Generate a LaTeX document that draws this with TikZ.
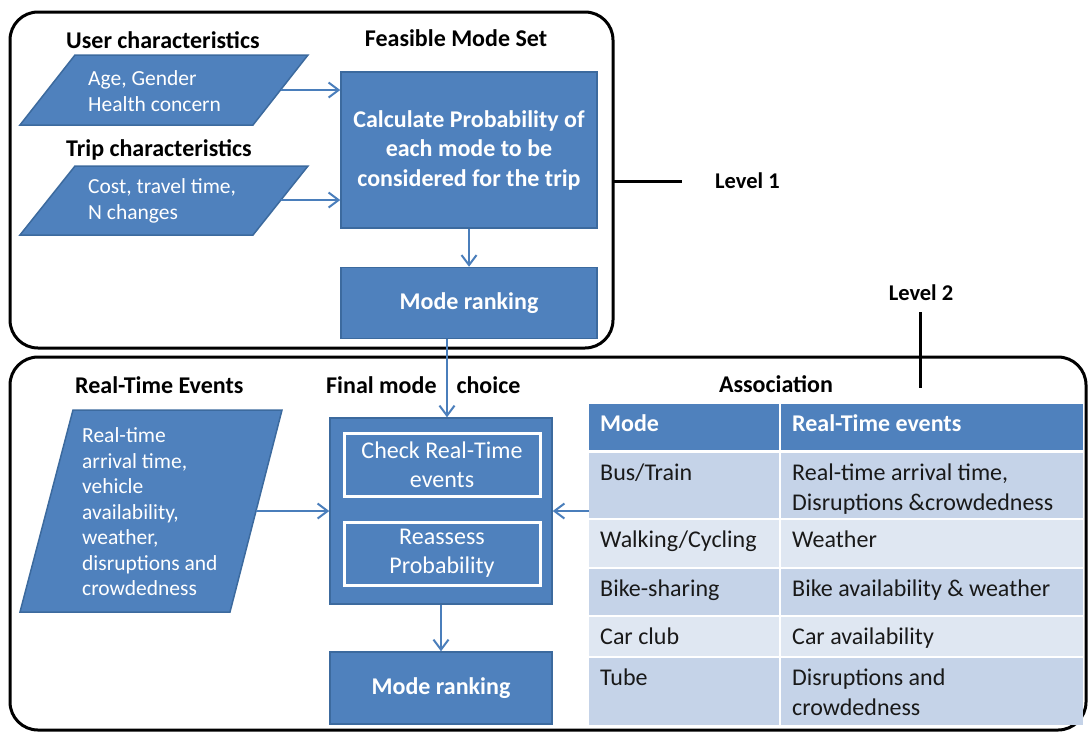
\documentclass[tikz,border=0pt]{standalone}
\usepackage{fontspec}
\setmainfont{Carlito}
\usetikzlibrary{arrows.meta,positioning}
\definecolor{boxblue}{HTML}{4F81BD}
\definecolor{edgeblue}{HTML}{3C6A9E}
\definecolor{lineblue}{HTML}{4A7EBB}
\definecolor{rowdark}{HTML}{C5D3E8}
\definecolor{rowlight}{HTML}{DFE7F2}
\begin{document}
\begin{tikzpicture}[
        x=1pt, y=-1pt,
        level/.style={draw=black, line width=3pt, rounded corners=28pt},
        title/.style={font=\fontsize{24}{28}\selectfont\bfseries, inner sep=0pt},
        levtext/.style={font=\fontsize{22.5}{26}\selectfont\bfseries, inner sep=0pt},
        datain/.style={fill=boxblue, draw=edgeblue, line width=1.5pt},
        intext/.style={text=white, align=left, inner sep=0pt, font=\fontsize{21.5}{25.5}\selectfont},
        process/.style={rectangle, fill=boxblue, draw=edgeblue, line width=1.5pt, text=white, align=center, font=\fontsize{24}{29.5}\selectfont\bfseries},
        subbox/.style={rectangle, draw=white, line width=3pt, text=white, align=center, font=\fontsize{24}{29}\selectfont, minimum width=196pt, minimum height=63pt},
        cell/.style={rectangle, anchor=north west, inner sep=0pt},
        celltext/.style={anchor=base west, inner sep=0pt, align=left, font=\fontsize{24}{30}\selectfont, text=black!90},
        headtext/.style={celltext, text=white, font=\fontsize{24}{30}\selectfont\bfseries},
        arrow/.style={-{Straight Barb[length=10pt, width=15pt, line width=2pt]}, line width=2pt, lineblue}
    ]
    \useasboundingbox (0,0) rectangle (1089,732);

    % level frames
    \draw[level] (10,12) rectangle (613,348);
    \draw[level] (10,357) rectangle (1086,730);
    \draw[line width=3pt] (613,181) -- (682,181);
    \draw[line width=3pt] (920,312) -- (920,388);
    \node[levtext, anchor=west] (lev1) at (715,181) {Level 1};
    \node[levtext] (lev2) at (921,293) {Level 2};

    % level 1
    \node[title, anchor=west] (user) at (66,40) {User characteristics};
    \node[title, anchor=west] (trip) at (66,150) {Trip characteristics};
    \node[title] (feas) at (456,38) {Feasible Mode Set};

    \fill[datain] (20,125) -- (253,125) -- (308,55) -- (75,55) -- cycle;
    \fill[datain] (20,235) -- (253,235) -- (308,166) -- (75,166) -- cycle;
    \node[intext, anchor=west] (age) at (88,91) {Age, Gender\\Health concern};
    \node[intext, anchor=west] (cost) at (88,201) {Cost, travel time,\\N changes};
    \coordinate (ageout) at (281,90);
    \coordinate (costout) at (281,200);

    \node[process, minimum width=256pt, minimum height=156pt] (calc) at (469,150)
        {Calculate Probability of\\each mode to be\\considered for the trip};
    \node[process, minimum width=256pt, minimum height=71pt] (rank1) at (469,303) {Mode ranking};

    \draw[arrow] (ageout) -- (ageout -| calc.west);
    \draw[arrow] (costout) -- (costout -| calc.west);
    \draw[arrow] (calc) -- (rank1);

    % level 2
    \node[title, anchor=west] (rte) at (75,385) {Real-Time Events};
    \node[title, anchor=west] (fmc) at (326,385) {Final mode\hspace{20pt}choice};
    \node[title] (assoc) at (776,384) {Association};

    \fill[datain] (20,612) -- (230,612) -- (282,410) -- (73,410) -- cycle;
    \node[intext, anchor=west] (rtin) at (82,512)
        {Real-time\\arrival time,\\vehicle\\availability,\\weather,\\disruptions and\\crowdedness};
    \coordinate (rtout) at (256,511);

    \node[process, minimum width=222pt, minimum height=186pt] (fin) at (441,511) {};
    \node[subbox] (check) at (442,465) {Check Real-Time\\events};
    \node[subbox] (reass) at (442,553.5) {Reassess\\Probability};
    \node[process, minimum width=222pt, minimum height=72pt] (rank2) at (441,688) {Mode ranking};

    % association table
    \node[cell, fill=boxblue, minimum width=190pt, minimum height=46pt] (h1) at (589,404) {};
    \node[cell, fill=boxblue, minimum width=302pt, minimum height=46pt] (h2) at (781,404) {};
    \node[cell, fill=rowdark, minimum width=190pt, minimum height=65pt] (a1) at (589,453) {};
    \node[cell, fill=rowdark, minimum width=302pt, minimum height=65pt] (b1) at (781,453) {};
    \node[cell, fill=rowlight, minimum width=190pt, minimum height=47pt] (a2) at (589,520) {};
    \node[cell, fill=rowlight, minimum width=302pt, minimum height=47pt] (b2) at (781,520) {};
    \node[cell, fill=rowdark, minimum width=190pt, minimum height=46pt] (a3) at (589,569) {};
    \node[cell, fill=rowdark, minimum width=302pt, minimum height=46pt] (b3) at (781,569) {};
    \node[cell, fill=rowlight, minimum width=190pt, minimum height=39pt] (a4) at (589,617) {};
    \node[cell, fill=rowlight, minimum width=302pt, minimum height=39pt] (b4) at (781,617) {};
    \node[cell, fill=rowdark, minimum width=190pt, minimum height=67pt] (a5) at (589,658) {};
    \node[cell, fill=rowdark, minimum width=302pt, minimum height=67pt] (b5) at (781,658) {};

    \node[headtext] at ([shift={(11,27)}]h1.north west) {Mode};
    \node[headtext] at ([shift={(11,27)}]h2.north west) {Real-Time events};
    \node[celltext] at ([shift={(11,27)}]a1.north west) {Bus/Train};
    \node[celltext] at ([shift={(11,57)}]b1.north west) {Real-time arrival time,\\Disruptions \&crowdedness};
    \node[celltext] at ([shift={(11,27)}]a2.north west) {Walking/Cycling};
    \node[celltext] at ([shift={(11,27)}]b2.north west) {Weather};
    \node[celltext] at ([shift={(11,27)}]a3.north west) {Bike-sharing};
    \node[celltext] at ([shift={(11,27)}]b3.north west) {Bike availability \& weather};
    \node[celltext] at ([shift={(11,27)}]a4.north west) {Car club};
    \node[celltext] at ([shift={(11,27)}]b4.north west) {Car availability};
    \node[celltext] at ([shift={(11,27)}]a5.north west) {Tube};
    \node[celltext] at ([shift={(11,57)}]b5.north west) {Disruptions and\\crowdedness};

    \draw[arrow] ([xshift=-22pt]rank1.south) -- ([xshift=6pt]fin.north);
    \draw[arrow] (rtout) -- (rtout -| fin.west);
    \draw[arrow] (a1.west |- fin.east) -- (fin.east);
    \draw[arrow] (fin) -- (rank2);

    \end{tikzpicture}
\end{document}
